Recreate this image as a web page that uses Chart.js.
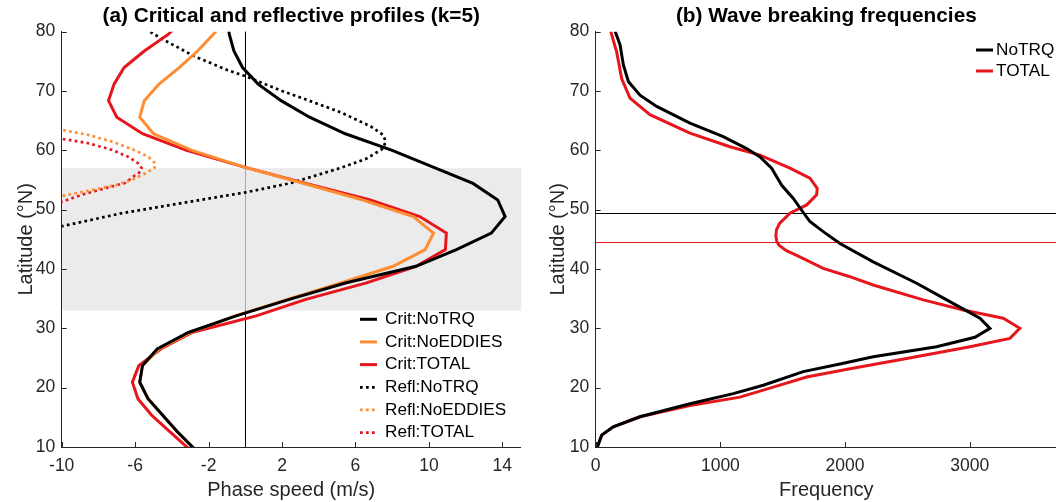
<!DOCTYPE html>
<html>
<head>
<meta charset="utf-8">
<script src="https://cdn.jsdelivr.net/npm/chart.js@4.4.1/dist/chart.umd.min.js"></script>
<style>
  html, body { margin: 0; padding: 0; background: #fff; }
  body { width: 1056px; height: 502px; position: relative; overflow: hidden; }
  .box { position: absolute; top: 0; height: 502px; }
  #boxA { left: 0; width: 524px; }
  #boxB { left: 528px; width: 529px; }
</style>
</head>
<body>
<div class="box" id="boxA"><canvas id="chartA" width="524" height="502"></canvas></div>
<div class="box" id="boxB"><canvas id="chartB" width="529" height="502"></canvas></div>
<script>
// ---------- panel (a): critical / reflective profiles ----------
const critLat = [82.31, 79.53, 76.74, 73.95, 71.16, 68.37, 65.58, 62.79, 60.00, 57.21, 54.42, 51.63, 48.84,
                 46.05, 43.26, 40.46, 37.67, 34.88, 32.09, 29.30, 26.51, 23.72, 20.93, 18.14, 15.35, 12.56, 9.77];
const critNoTRQ    = [-1.0, -0.87, -0.62, -0.15, 0.7, 1.95, 3.5, 5.45, 8.0, 10.2, 12.4, 13.75, 14.15,
                      13.4, 11.5, 9.3, 5.5, 2.4, -0.5, -3.1, -4.8, -5.6, -5.75, -5.3, -4.5, -3.7, -2.8];
const critNoEddies = [-1.0, -1.75, -2.6, -3.6, -4.7, -5.5, -5.75, -5.0, -2.9, -0.1, 3.2, 6.4, 9.15,
                      10.25, 9.8, 8.05, 5.2, 2.3, -0.55, -3.0, -4.7, -5.6, -5.75, -5.3, -4.5, -3.7, -2.8];
const critTotal    = [-3.3, -4.2, -5.5, -6.6, -7.15, -7.45, -7.0, -5.6, -3.2, -0.1, 3.3, 6.8, 9.5,
                      10.95, 10.9, 9.3, 6.6, 3.3, 0.6, -2.9, -4.6, -5.8, -6.15, -5.85, -5.1, -4.1, -3.1];

const reflLatNoTRQ = [82.0, 80.0, 78.8, 75.8, 73.5, 72.5, 71.0, 70.0, 68.8, 66.4, 64.0, 62.6, 61.5, 60.3,
                      58.6, 57.0, 55.8, 54.5, 52.9, 51.3, 49.4, 47.2, 46.0];
const reflNoTRQ    = [-6.3, -5.2, -4.55, -2.74, -0.95, 0.0, 1.2, 2.0, 3.1, 5.2, 6.85, 7.5, 7.65, 7.5,
                      6.6, 5.16, 3.89, 2.5, 0.0, -3.1, -6.73, -10.0, -11.7];
const reflLatNoEddies = [64.2, 63.4, 62.6, 61.5, 60.0, 58.9, 57.8, 57.0, 56.1, 55.0, 54.1, 53.2, 52.3, 51.6];
const reflNoEddies    = [-11.2, -9.91, -8.55, -7.28, -6.0, -5.28, -4.9, -4.95, -5.46, -6.19, -7.1, -8.55, -10.0, -11.2];
const reflLatTotal = [62.5, 61.9, 61.2, 60.1, 58.9, 57.8, 57.0, 56.4, 55.8, 54.5, 53.6, 52.5, 51.3, 50.5];
const reflTotal    = [-10.9, -9.91, -8.55, -7.28, -6.37, -5.83, -5.65, -5.7, -6.0, -6.55, -7.64, -8.91, -10.0, -11.0];

const xTicksA = [-10, -6, -2, 2, 6, 10, 14];
const bandLat = [33, 57];

// ---------- panel (b): wave breaking frequencies ----------
const freqLatNoTRQ = [80.1, 77.8, 74.4, 71.6, 69.3, 67.4, 64.6, 62.3, 60.3, 58.9, 57.0, 54.1, 51.9, 49.9, 48.0,
                      46.3, 44.3, 41.2, 37.6, 34.8, 31.7, 30.0, 28.5, 26.9, 25.2, 24.0, 22.7, 20.4, 19.0,
                      17.3, 15.1, 13.4, 12.0, 10.0];
const freqNoTRQ    = [155, 195, 222, 262, 355, 489, 756, 1023, 1211, 1318, 1411, 1492, 1585, 1652, 1718,
                      1825, 1959, 2226, 2574, 2815, 3082, 3162, 3042, 2734, 2226, 1959, 1665, 1344, 1104,
                      756, 355, 141, 48, 13];
const freqLatTotal = [80.1, 76.6, 72.1, 68.8, 66.0, 62.9, 60.6, 59.2, 57.0, 55.3, 53.6, 52.5, 50.8, 49.4,
                      47.7, 46.6, 45.6, 44.7, 44.0, 43.1, 42.3, 40.1, 38.7, 37.3, 34.8, 33.1, 31.7, 30.0,
                      28.3, 26.9, 24.9, 23.2, 21.8, 20.1, 18.4, 17.0, 15.1, 13.4, 12.0, 10.0];
const freqTotal    = [120, 168, 208, 275, 435, 756, 1077, 1318, 1558, 1718, 1777, 1772, 1692, 1558,
                      1475, 1450, 1445, 1452, 1470, 1530, 1612, 1825, 2039, 2226, 2627, 2948, 3269, 3402,
                      3322, 3002, 2494, 2039, 1692, 1424, 1157, 756, 355, 141, 48, 13];

const xTicksB = [0, 1000, 2000, 3000];
const markLats = [49.4, 44.6];
const markColors = ['#000000', '#e6161c'];

const yTicks = [10, 20, 30, 40, 50, 60, 70, 80];

// ---------- styling ----------
const FONT = "'Liberation Sans', Arial, Helvetica, sans-serif";
const axisColor = '#262626';
const BLACK = '#000000', ORANGE = '#fe8d32', RED = '#e6161c';
const TICK_LEN = 5;
const TICK_SIZE = 17.5, LABEL_SIZE = 20, TITLE_SIZE = 20.8, LEGEND_SIZE = 17.2;

function lineSet(label, xs, lats, color, dotted) {
    return {
        label: label,
        data: xs.map((v, i) => ({ x: v, y: lats[i] })),
        borderColor: color,
        backgroundColor: color,
        borderWidth: dotted ? 2.7 : 3,
        borderDash: dotted ? [2.7, 3.3] : [],
        borderCapStyle: 'butt',
        borderJoinStyle: 'miter',
        showLine: true,
        pointRadius: 0,
        tension: 0,
        fill: false,
        clip: 0
    };
}

function fixedTicks(list) {
    return function(scale) { scale.ticks = list.map(v => ({ value: v })); };
}

function makeScales(xMin, xMax, xList, xTitle, yWidth) {
    return {
        x: {
            type: 'linear', min: xMin, max: xMax,
            afterBuildTicks: fixedTicks(xList),
            afterFit: s => { s.height = 55; },
            grid: { display: false, drawTicks: false },
            border: { display: true, color: axisColor, width: 1 },
            ticks: { color: axisColor, font: { family: FONT, size: TICK_SIZE }, padding: 8.5, maxRotation: 0,
                     autoSkip: false, callback: v => String(v) },
            title: { display: true, text: xTitle, color: axisColor, font: { family: FONT, size: LABEL_SIZE },
                     padding: { top: 0, bottom: 0 } }
        },
        y: {
            type: 'linear', min: 10, max: 80,
            afterBuildTicks: fixedTicks(yTicks),
            afterFit: s => { s.width = yWidth; },
            grid: { display: false, drawTicks: false },
            border: { display: true, color: axisColor, width: 1 },
            ticks: { color: axisColor, font: { family: FONT, size: TICK_SIZE }, padding: 6.5, autoSkip: false,
                     callback: v => String(v) },
            title: { display: true, text: 'Latitude (°N)', color: axisColor, font: { family: FONT, size: LABEL_SIZE },
                     padding: { top: 0, bottom: 0 } }
        }
    };
}

// tick marks pointing into the plot
const inTicks = {
    id: 'inTicks',
    afterDraw(chart) {
        const { ctx, chartArea: a, scales: { x, y } } = chart;
        ctx.save();
        ctx.strokeStyle = axisColor;
        ctx.lineWidth = 1;
        ctx.beginPath();
        x.ticks.forEach(t => {
            const px = Math.round(x.getPixelForValue(t.value)) + 0.5;
            ctx.moveTo(px, a.bottom);
            ctx.lineTo(px, a.bottom - TICK_LEN);
        });
        y.ticks.forEach(t => {
            const py = Math.round(y.getPixelForValue(t.value)) + 0.5;
            ctx.moveTo(a.left, py);
            ctx.lineTo(a.left + TICK_LEN, py);
        });
        ctx.stroke();
        ctx.restore();
    }
};

// legend drawn on the canvas, from the datasets
function legendPlugin(x0, x1, xt, yTop, step) {
    return {
        id: 'ownLegend',
        afterDatasetsDraw(chart) {
            const ctx = chart.ctx;
            ctx.save();
            chart.data.datasets.forEach((ds, i) => {
                const yy = yTop + i * step;
                ctx.strokeStyle = ds.borderColor;
                ctx.lineWidth = ds.borderWidth;
                ctx.setLineDash(ds.borderDash || []);
                ctx.lineCap = 'butt';
                ctx.beginPath();
                ctx.moveTo(x0, yy);
                ctx.lineTo(x1, yy);
                ctx.stroke();
                ctx.setLineDash([]);
                ctx.fillStyle = '#000';
                ctx.font = LEGEND_SIZE + 'px ' + FONT;
                ctx.textBaseline = 'middle';
                ctx.textAlign = 'left';
                ctx.fillText(ds.label, xt, yy);
            });
            ctx.restore();
        }
    };
}

// zero line and shaded latitude band for panel (a)
const bandPlugin = {
    id: 'band',
    beforeDatasetsDraw(chart) {
        const { ctx, chartArea: a, scales: { x, y } } = chart;
        ctx.save();
        const x0 = Math.round(x.getPixelForValue(0)) + 0.5;
        ctx.strokeStyle = '#000';
        ctx.lineWidth = 1;
        ctx.beginPath();
        ctx.moveTo(x0, a.top);
        ctx.lineTo(x0, a.bottom);
        ctx.stroke();
        const yTop = y.getPixelForValue(bandLat[1]);
        const yBot = y.getPixelForValue(bandLat[0]);
        ctx.fillStyle = 'rgba(228,228,228,0.74)';
        ctx.fillRect(a.left + 0.5, yTop, a.right - a.left, yBot - yTop);
        ctx.restore();
    }
};

// horizontal latitude markers for panel (b)
const markPlugin = {
    id: 'marks',
    beforeDatasetsDraw(chart) {
        const { ctx, chartArea: a, scales: { y } } = chart;
        ctx.save();
        ctx.lineWidth = 1;
        markLats.forEach((lat, i) => {
            const py = Math.round(y.getPixelForValue(lat)) + 0.5;
            ctx.strokeStyle = markColors[i];
            ctx.beginPath();
            ctx.moveTo(a.left, py);
            ctx.lineTo(a.right, py);
            ctx.stroke();
        });
        ctx.restore();
    }
};

function titleOpts(text) {
    return {
        display: true, text: text, color: '#000', fullSize: false,
        font: { family: FONT, size: TITLE_SIZE, weight: 'bold' },
        padding: { top: 3.5, bottom: 3.2 }
    };
}

// ---------- chart (a) ----------
new Chart(document.getElementById('chartA'), {
    type: 'scatter',
    data: {
        datasets: [
            lineSet('Crit:NoTRQ', critNoTRQ, critLat, BLACK, false),
            lineSet('Crit:NoEDDIES', critNoEddies, critLat, ORANGE, false),
            lineSet('Crit:TOTAL', critTotal, critLat, RED, false),
            lineSet('Refl:NoTRQ', reflNoTRQ, reflLatNoTRQ, BLACK, true),
            lineSet('Refl:NoEDDIES', reflNoEddies, reflLatNoEddies, ORANGE, true),
            lineSet('Refl:TOTAL', reflTotal, reflLatTotal, RED, true)
        ]
    },
    options: {
        responsive: false, animation: false, events: [], devicePixelRatio: 1,
        layout: { padding: { left: 14, right: 3.3, top: 0, bottom: 0 } },
        scales: makeScales(-10, 15, xTicksA, 'Phase speed (m/s)', 47.7),
        plugins: {
            legend: { display: false },
            tooltip: { enabled: false },
            title: titleOpts('(a) Critical and reflective profiles (k=5)')
        }
    },
    plugins: [bandPlugin, inTicks, legendPlugin(360, 377, 385, 319.3, 22.66)]
});

// ---------- chart (b) ----------
new Chart(document.getElementById('chartB'), {
    type: 'scatter',
    data: {
        datasets: [
            lineSet('NoTRQ', freqNoTRQ, freqLatNoTRQ, BLACK, false),
            lineSet('TOTAL', freqTotal, freqLatTotal, RED, false)
        ]
    },
    options: {
        responsive: false, animation: false, events: [], devicePixelRatio: 1,
        layout: { padding: { left: 18.2, right: 0, top: 0, bottom: 0 } },
        scales: makeScales(0, 3700, xTicksB, 'Frequency', 49.5),
        plugins: {
            legend: { display: false },
            tooltip: { enabled: false },
            title: titleOpts('(b) Wave breaking frequencies')
        }
    },
    plugins: [markPlugin, inTicks, legendPlugin(448, 465, 468, 50, 21)]
});
</script>
</body>
</html>
